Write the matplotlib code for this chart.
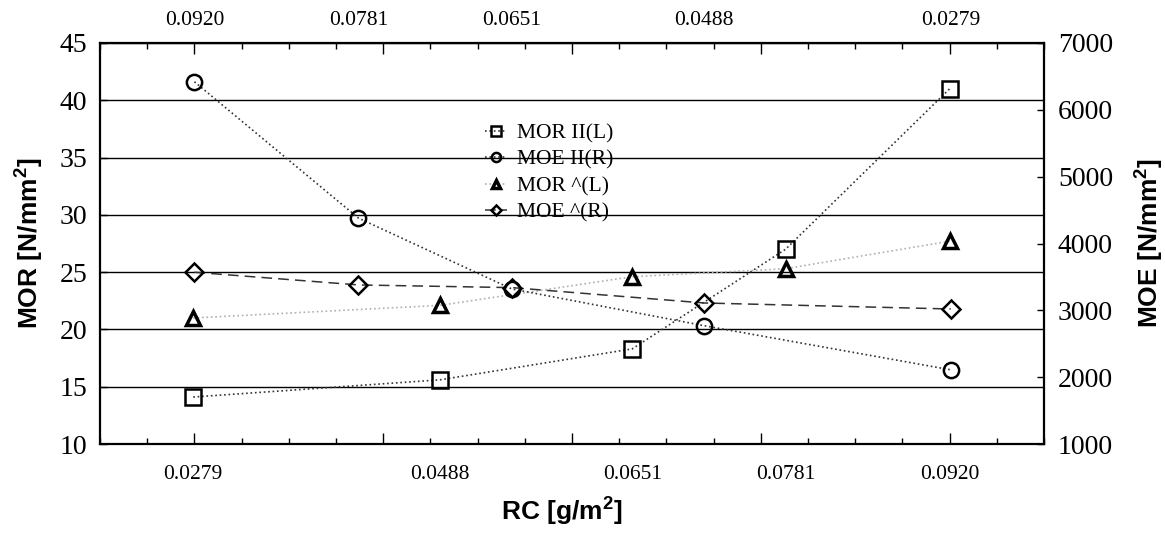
import matplotlib
matplotlib.use('Agg')
import matplotlib.pyplot as plt
from matplotlib.ticker import MultipleLocator, FixedLocator

plt.rcParams['mathtext.fontset'] = 'custom'
plt.rcParams['mathtext.rm'] = 'Liberation Sans:bold'
plt.rcParams['mathtext.it'] = 'Liberation Sans:bold'
plt.rcParams['mathtext.bf'] = 'Liberation Sans:bold'

# ---- data ----
rc_bottom = [0.0279, 0.0488, 0.0651, 0.0781, 0.0920]   # bottom axis (MOR series)
rc_top = [0.0920, 0.0781, 0.0651, 0.0488, 0.0279]      # top axis, reversed (MOE series)
mor_par = [14.1, 15.6, 18.3, 27.0, 41.0]        # MOR II(L)
mor_perp = [21.0, 22.1, 24.6, 25.3, 27.7]       # MOR ^(L)
moe_par = [6420, 4380, 3320, 2770, 2110]        # MOE II(R)
moe_perp = [3570, 3380, 3340, 3110, 3020]       # MOE ^(R)
left_ticks = [10, 15, 20, 25, 30, 35, 40, 45]
right_ticks = [1000, 2000, 3000, 4000, 5000, 6000, 7000]
bottom_labels = ['0.0279', '0.0488', '0.0651', '0.0781', '0.0920']
top_labels = ['0.0920', '0.0781', '0.0651', '0.0488', '0.0279']
long_ticks = [0.028, 0.044, 0.060, 0.076, 0.092]
series_labels = ['MOR II(L)', 'MOE II(R)', 'MOR ^(L)', 'MOE ^(R)']

SERIF = 'Liberation Serif'
SANS = 'Liberation Sans'

W, H = 1165, 538
fig = plt.figure(figsize=(W / 100, H / 100), dpi=100)
rect = [100 / W, 1 - 444 / H, 944 / W, 401 / H]
ax = fig.add_axes(rect)
ax2 = fig.add_axes(rect, frameon=False)
ax2.patch.set_visible(False)

# ---- main (bottom/left) axes ----
ax.set_xlim(0.02, 0.10)
ax.set_ylim(10, 45)
ax.set_yticks(left_ticks)
ax.set_yticklabels([str(v) for v in left_ticks], fontfamily=SERIF, fontsize=20)
ax.tick_params(axis='y', direction='in', length=5, width=1, pad=9)
ax.xaxis.set_major_locator(FixedLocator(long_ticks))
ax.xaxis.set_minor_locator(MultipleLocator(0.004))
ax.tick_params(axis='x', which='major', direction='in', length=8, width=1, labelbottom=False)
ax.tick_params(axis='x', which='minor', direction='in', length=4, width=1)
ax.yaxis.grid(True, color='black', linewidth=1)
ax.set_axisbelow(True)
for s in ax.spines.values():
    s.set_linewidth(1.6)

secb = ax.secondary_xaxis('bottom')
secb.set_xticks(rc_bottom)
secb.set_xticklabels(bottom_labels, fontfamily=SERIF, fontsize=15.5)
secb.tick_params(length=0, pad=15)
secb.spines['bottom'].set_visible(False)

# ---- secondary (top/right) axes ----
ax2.set_xlim(0.10, 0.02)
ax2.set_ylim(1000, 7000)
ax2.xaxis.tick_top()
ax2.yaxis.tick_right()
ax2.set_yticks(right_ticks)
ax2.set_yticklabels([str(v) for v in right_ticks], fontfamily=SERIF, fontsize=20)
ax2.tick_params(axis='y', direction='in', length=5, width=1, pad=10)
ax2.xaxis.set_major_locator(FixedLocator(long_ticks))
ax2.xaxis.set_minor_locator(MultipleLocator(0.004))
ax2.tick_params(axis='x', which='major', direction='in', length=8, width=1, labeltop=False)
ax2.tick_params(axis='x', which='minor', direction='in', length=4, width=1)

sect = ax2.secondary_xaxis('top')
sect.set_xticks(rc_top)
sect.set_xticklabels(top_labels, fontfamily=SERIF, fontsize=15.5)
sect.tick_params(length=0, pad=9)
sect.spines['top'].set_visible(False)

# ---- series ----
h1, = ax.plot(rc_bottom, mor_par, linestyle=':', color='#333333', linewidth=1.2,
              marker='s', markersize=11, mfc='none', mec='black', mew=1.8, zorder=5)
h3, = ax.plot(rc_bottom, mor_perp, linestyle=':', color='#b0b0b0', linewidth=1.2,
              marker='^', markersize=10, mfc='none', mec='black', mew=2.5, zorder=5)
h2, = ax2.plot(rc_top, moe_par, linestyle=':', color='#333333', linewidth=1.2,
               marker='o', markersize=11, mfc='none', mec='black', mew=1.8, zorder=5)
h4, = ax2.plot(rc_top, moe_perp, linestyle=(0, (7, 4)), color='#333333', linewidth=1.1,
               marker='D', markersize=9, mfc='none', mec='black', mew=1.8, zorder=5)

leg = ax2.legend([h1, h2, h3, h4], series_labels, loc='upper left',
                 bbox_to_anchor=(0.408, 0.80), frameon=False,
                 prop={'family': SERIF, 'size': 15.5}, markerscale=0.6,
                 handlelength=1.0, handletextpad=0.5, labelspacing=0.3,
                 borderpad=0, borderaxespad=0)

# ---- axis titles ----
fig.text(562 / W, 1 - 512 / H, r'RC [g/m$^2$]', ha='center', va='center',
         fontfamily=SANS, fontweight='bold', fontsize=19)
fig.text(30 / W, 1 - 243 / H, r'MOR [N/mm$^2$]', ha='center', va='center', rotation=90,
         fontfamily=SANS, fontweight='bold', fontsize=19)
fig.text(1150 / W, 1 - 243 / H, r'MOE [N/mm$^2$]', ha='center', va='center', rotation=90,
         fontfamily=SANS, fontweight='bold', fontsize=19)

fig.savefig('out.png', dpi=100)
